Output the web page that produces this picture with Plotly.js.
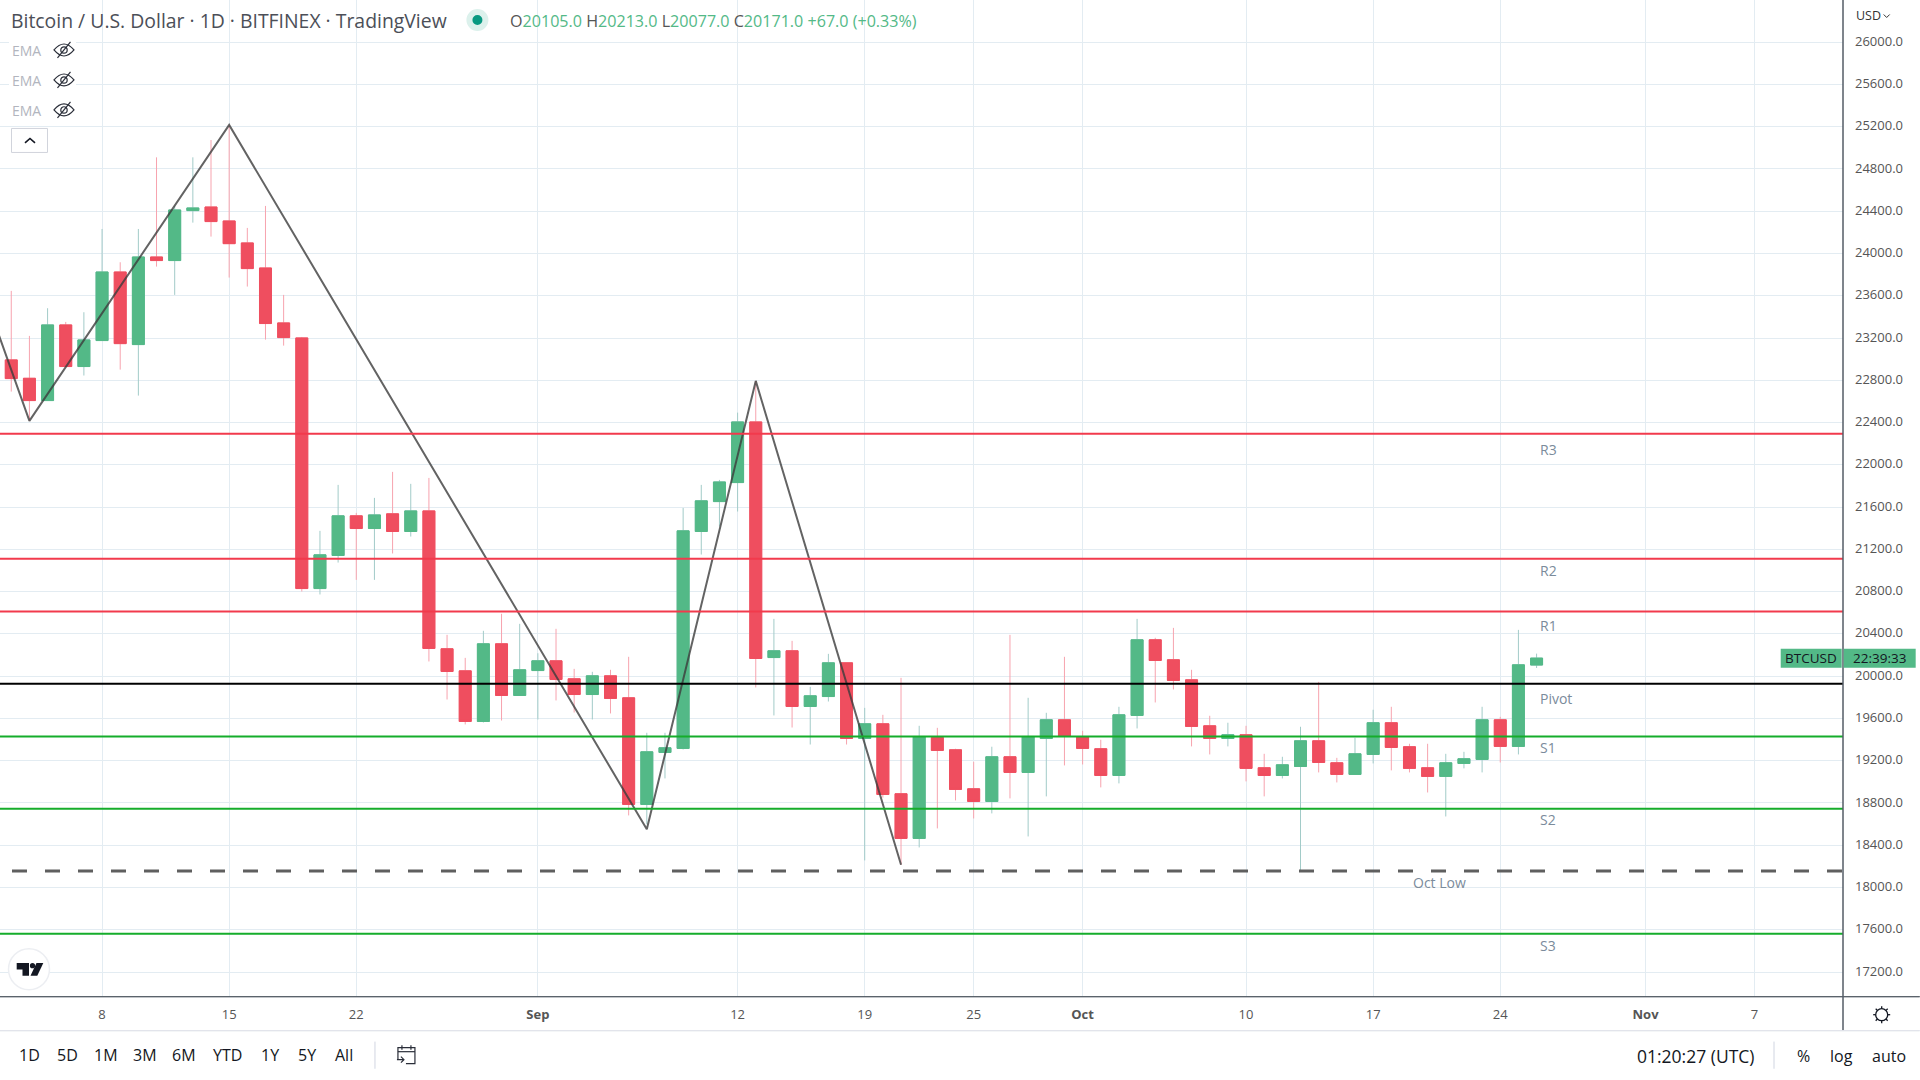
<!DOCTYPE html>
<html><head><meta charset="utf-8">
<script src="https://cdn.plot.ly/plotly-3.0.1.min.js"></script>
<style>html,body{margin:0;padding:0;background:#fff}#c{width:1920px;height:1080px}</style>
</head><body><div id="c"></div>
<script>
const startDate = '2022-08-03';
const opens = [22993,22819,22608,23324,22930,23176,23825,23138,23967,23933,24406,24440,24308,24100,23863,23343,23201,20829,21142,21517,21397,21536,21369,21564,20259,20050,19571,20306,19817,
 20053,20145,19975,19826,20003,19795,18786,19278,19316,21369,21652,21832,22406,20176,20240,19713,19807,20126,19410,19549,18887,18464,19420,19303,18934,18814,19237,19089,19410,19587,
 19426,19313,19060,19628,20344,20155,19965,19530,19410,19445,19133,19060,19145,19388,19180,19070,19259,19559,19332,19133,19051,19174,19212,19587,19335,20105];
const highs = [23646,23220,23482,23352,23444,24232,23917,24232,24910,24450,24910,25074,25216,24242,24450,23608,23210,21375,21810,21545,21687,21933,21820,21876,20391,20173,20429,20590,20495,
 20217,20448,20069,20041,20060,20183,19464,19464,21592,21810,21857,22494,22794,20542,20334,19899,20211,20126,19700,19634,19984,19530,19511,19313,19190,19332,20391,19795,19653,20183,
 19483,19398,19710,20542,20363,20457,20060,19625,19559,19530,19265,19237,19521,19946,19227,19417,19682,19710,19360,19360,19265,19284,19710,19615,20438,20213];
const lows = [22693,22416,22608,22930,22845,23176,22901,22655,23876,23608,24292,24160,23772,23687,23185,23128,20801,20773,21075,20911,20911,21161,21321,20139,19779,19543,19561,19580,19817,
 19590,19770,19656,19590,19647,18682,18600,19032,19306,21151,21416,21558,19893,19628,19514,19353,19760,19353,18256,18850,18215,18379,18559,18824,18653,18701,18843,18483,18862,19155,
 19164,18947,18985,19505,19751,19874,19335,19259,19335,19004,18862,19032,18162,19089,18994,19070,19174,19108,19089,18899,18672,19127,19089,19183,19259,20077];
const closes = [22816,22608,23324,22930,23182,23825,23147,23967,23933,24412,24431,24302,24093,23857,23337,23204,20829,21148,21517,21397,21526,21369,21564,20262,20044,19571,20306,19817,20060,
 20145,19968,19826,20003,19789,18786,19284,19322,21375,21659,21838,22406,20167,20240,19713,19814,20126,19410,19549,18880,18464,19429,19297,18928,18814,19237,19089,19429,19587,19432,
 19316,19060,19634,20344,20148,19959,19524,19410,19445,19127,19060,19161,19388,19183,19070,19265,19559,19325,19127,19051,19180,19218,19587,19335,20107,20171];

const zigDates = ['2022-07-31','2022-08-04','2022-08-15','2022-09-07','2022-09-13','2022-09-21'];
const zigValues = [24345,22416,25216,18552,22794,18215];

const levelNames = ['R3','R2','R1','Pivot','S1','S2','S3'];
const levelValues = [22293,21110,20612,19927,19429,18745,17562];
const octLow = 18155;
const lastPrice = 20171;

const yTicks = [17200,17600,18000,18400,18800,19200,19600,20000,20400,20800,21200,21600,22000,22400,22800,23200,23600,24000,24400,24800,25200,25600,26000];
const xTickDates = ['2022-08-08','2022-08-15','2022-08-22','2022-09-01','2022-09-12','2022-09-19','2022-09-25','2022-10-01','2022-10-10','2022-10-17','2022-10-24','2022-11-01','2022-11-07'];
const xTickLabels = ['8','15','22','<b>Sep</b>','12','19','25','<b>Oct</b>','10','17','24','<b>Nov</b>','7'];
const rangeButtons = ['1D','5D','1M','3M','6M','YTD','1Y','5Y','All'];
const rangeButtonX = [30,68,106,145,184,228,270,307,344];

const FONT = '"Open Sans", "Noto Sans", sans-serif';
const GREEN = '#53b987', RED = '#ef4e5f', GREENW = '#a2cbc8', REDW = '#f7a3ae';
const PW = 1843.3, PH = 997.3;
const dates = opens.map((_, i) => { const d = new Date(startDate + 'T00:00:00Z'); d.setUTCDate(d.getUTCDate() + i); return d.toISOString().slice(0, 10); });

const X = p => p / PW, Y = p => 1 - p / PH;
function pxPath(s) {
  let isX = true;
  return s.replace(/-?\d+(\.\d+)?/g, m => { const v = isX ? X(+m) : Y(+m); isX = !isX; return v.toFixed(6); });
}
function icon(s, color, width, fill) {
  return {type:'path', xref:'paper', yref:'paper', path:pxPath(s), line:{color:color, width:width===undefined?1:width}, fillcolor:fill||'rgba(0,0,0,0)', layer:'above'};
}
function rectPx(x0,y0,x1,y1,fill,line,lw) {
  return {type:'rect', xref:'paper', yref:'paper', x0:X(x0), x1:X(x1), y0:Y(y0), y1:Y(y1), fillcolor:fill, line:{color:line||fill, width:lw===undefined?0:lw}, layer:'above'};
}
function circlePx(cx,cy,rx,ry,fill,line,lw) {
  return {type:'circle', xref:'paper', yref:'paper', x0:X(cx-rx), x1:X(cx+rx), y0:Y(cy-ry), y1:Y(cy+ry), fillcolor:fill, line:{color:line||fill, width:lw===undefined?0:lw}, layer:'above'};
}
function note(px, py, text, opt) {
  opt = opt || {};
  return Object.assign({xref:'paper', yref:'paper', x:X(px), y:Y(py), text:text, showarrow:false, xanchor:'left', yanchor:'middle',
    font:{family:FONT, size:opt.size||13, color:opt.color||'#131722'}, borderpad:0}, opt.extra||{});
}
function levelLine(v, color, w) {
  return {type:'line', xref:'paper', yref:'y', x0:0, x1:1, y0:v, y1:v, line:{color:color, width:w}, layer:'above'};
}

const wick = {type:'candlestick', x:dates, open:opens, high:highs, low:lows, close:closes, whiskerwidth:0,
  increasing:{line:{color:GREENW,width:1}, fillcolor:GREEN}, decreasing:{line:{color:REDW,width:1}, fillcolor:RED}, hoverinfo:'skip'};
const body = {type:'candlestick', x:dates, open:opens, close:closes,
  high:opens.map((o,i)=>Math.max(o,closes[i])), low:opens.map((o,i)=>Math.min(o,closes[i])), whiskerwidth:0,
  increasing:{line:{color:GREEN,width:1}, fillcolor:GREEN}, decreasing:{line:{color:RED,width:1}, fillcolor:RED}, hoverinfo:'skip'};
const zig = {type:'scatter', mode:'lines', x:zigDates, y:zigValues, line:{color:'rgba(60,60,60,0.8)', width:2}, hoverinfo:'skip'};

const levelColors = ['#f23a4c','#f23a4c','#f23a4c','#000000','#15ad2b','#15ad2b','#15ad2b'];
const shapes = levelValues.map((v,i)=>levelLine(v, levelColors[i], 2));
shapes.push({type:'line', xref:'paper', yref:'y', x0:X(12), x1:1, y0:octLow, y1:octLow, line:{color:'#5f5f5f', width:3, dash:'15px,18px'}, layer:'above'});
// frame
shapes.push(rectPx(0,997,1920,997.01,'#555','#555d66',1));
shapes.push(rectPx(1843.3,0,1843.31,1031,'#555','#555d66',1));
shapes.push(rectPx(0,1031,1920,1031.01,'#e0e3eb','#e0e3eb',1));
// price label
shapes.push(rectPx(1781,649,1842,668,GREEN));
shapes.push(rectPx(1844,649,1916,668,GREEN));
// status dot
shapes.push(circlePx(477.5,20,11,11,'#dcf1ec'));
shapes.push(circlePx(477.5,20,5,5,'#089981'));
// eyes
[50,80,110].forEach(cy=>{
  shapes.push(rectPx(9,cy-11,76,cy+11,'#ffffff'));
  shapes.push(icon(`M54 ${cy} Q64 ${cy-12} 74 ${cy} Q64 ${cy+12} 54 ${cy} Z`,'#2a2e39',1.2));
  shapes.push(circlePx(64,cy,3.2,3.2,'rgba(0,0,0,0)','#2a2e39',1.2));
  shapes.push(icon(`M57.5 ${cy+8} L70.5 ${cy-8}`,'#2a2e39',1.2));
});
// collapse button
shapes.push(rectPx(11.5,128.5,47.5,152.5,'#ffffff','#d1d4dc',1));
shapes.push(icon('M25 143 L30 138.5 L35 143','#131722',1.6));
// logo
shapes.push(circlePx(29,969.5,20.5,20.5,'#ffffff','#eceef2',1.5));
shapes.push(icon('M16.7 963.3 L29 963.3 L29 976 L22.5 976 L22.5 969.7 L16.7 969.7 Z','#131722',0,'#131722'));
shapes.push(circlePx(32.5,966,2.6,2.6,'#131722'));
shapes.push(icon('M36.5 963.3 L43.3 963.3 L37.3 976 L30.5 976 Z','#131722',0,'#131722'));
// usd chevron
shapes.push(icon('M1884 14.5 L1887 17.5 L1890 14.5','#333',1));
// calendar
shapes.push(icon('M398 1060 L398 1048 L415 1048 L415 1064 L406 1064','#2a2e39',1.2));
shapes.push(icon('M398 1052 L415 1052','#2a2e39',1.2));
shapes.push(icon('M402 1045.5 L402 1050 M411 1045.5 L411 1050','#2a2e39',1.2));
shapes.push(icon('M397 1060 L404 1060 M401 1057 L404 1060 L401 1063','#2a2e39',1.2));
// gear
shapes.push(circlePx(1882,1015,6,6,'rgba(0,0,0,0)','#131722',1.3));
for (const [a,b] of [[1882,1006.5],[1882,1023.5],[1873.5,1015],[1890.5,1015],[1876,1009],[1888,1021],[1876,1021],[1888,1009]]) {
  const mx = 1882+(a-1882)*0.72, my = 1015+(b-1015)*0.72;
  shapes.push(icon(`M${mx} ${my} L${a} ${b}`,'#131722',1.3));
}
// separators
shapes.push(rectPx(375,1042,375.01,1069,'#e0e3eb','#e0e3eb',1));
shapes.push(rectPx(1774.3,1042,1774.31,1069,'#e0e3eb','#e0e3eb',1));

const G = s => `<span style="color:${GREEN}">${s}</span>`;
const annotations = [
  note(509,21,'O'+G('20105.0')+' H'+G('20213.0')+' L'+G('20077.0')+' C'+G('20171.0')+' '+G('+67.0 (+0.33%)'),{size:16.1,color:'#555'}),
  note(1855,16,'USD',{size:12.5,color:'#333'}),
  note(1811,658.5,'BTCUSD',{size:13.5,color:'#131722',extra:{xanchor:'center'}}),
  note(1880,658.5,'22:39:33',{size:13.5,color:'#131722',extra:{xanchor:'center'}}),
  note(1412,882.7,'Oct Low',{size:14,color:'#7b8b9b'}),
  note(1636,1056,'01:20:27 (UTC)',{size:17.5,color:'#131722'}),
  note(1804,1056,'%',{size:16,color:'#131722',extra:{xanchor:'center'}}),
  note(1842,1056,'log',{size:16,color:'#131722',extra:{xanchor:'center'}}),
  note(1889,1056,'auto',{size:16,color:'#131722',extra:{xanchor:'center'}})
];
[51,81,111].forEach(cy=>annotations.push(note(11,cy,'EMA',{size:14,color:'#b2b5be'})));
const levelPy = [449.5,570.6,625.7,699,747.7,820,945.3];
levelNames.forEach((n,i)=>annotations.push(note(1539,levelPy[i],n,{size:14,color:'#7b8b9b'})));
rangeButtons.forEach((b,i)=>annotations.push(note(rangeButtonX[i],1055,b,{size:16,color:'#131722',extra:{xanchor:'center'}})));

const layout = {
  width:1920, height:1080, margin:{l:0,r:1920-PW,t:0,b:1080-PH,pad:0},
  paper_bgcolor:'#fff', plot_bgcolor:'#fff', showlegend:false, dragmode:false, hovermode:false, boxgap:0.34, boxgroupgap:0,
  title:{text:'Bitcoin / U.S. Dollar · 1D · BITFINEX · TradingView', xref:'container', yref:'container', x:11/1920, xanchor:'left', y:1-21/1080, yanchor:'middle', font:{family:FONT,size:19.4,color:'#4c4f58'}, pad:{t:0,b:0,l:0,r:0}},
  xaxis:{type:'date', range:['2022-08-02 09:07','2022-11-11 21:00'], rangeslider:{visible:false}, tickmode:'array', tickvals:xTickDates, ticktext:xTickLabels,
    showgrid:true, gridcolor:'#e3ecf2', gridwidth:1, zeroline:false, showline:false, ticks:'', ticklabelstandoff:8, tickangle:0, tickfont:{family:FONT,size:13,color:'#555'}},
  yaxis:{side:'right', range:[16963.5,26398.9], tickmode:'array', tickvals:yTicks, tickformat:'.1f', showgrid:true, gridcolor:'#e3ecf2', gridwidth:1,
    zeroline:false, showline:false, ticks:'', ticklabelstandoff:11, ticklabelshift:-1, tickfont:{family:FONT,size:13,color:'#555'}},
  shapes:shapes, annotations:annotations
};
Plotly.newPlot('c',[wick,body,zig],layout,{displayModeBar:false,staticPlot:true});
</script></body></html>
